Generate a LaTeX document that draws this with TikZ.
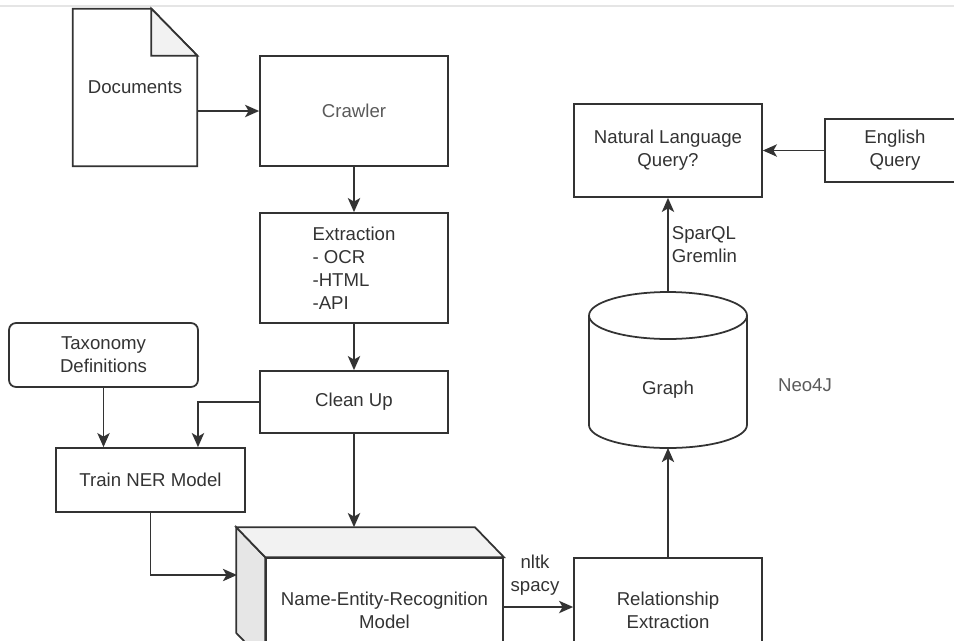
\documentclass[tikz,border=0pt]{standalone}
\usepackage{fontspec}
\setmainfont{Liberation Sans}
\usetikzlibrary{arrows.meta}
\definecolor{linec}{HTML}{333333}
\definecolor{textc}{HTML}{333333}
\definecolor{softc}{HTML}{5A5A5A}
\definecolor{facec}{HTML}{F2F2F2}
\definecolor{sidec}{HTML}{E6E6E6}
\begin{document}
\begin{tikzpicture}[
            x=0.02cm, y=-0.02cm,
            every node/.style={font=\fontsize{10.6}{13}\selectfont, text=textc, inner sep=0pt, align=center},
            box/.style={draw=linec, line width=1pt, minimum width=3.76cm},
            roundbox/.style={box, rounded corners=4pt, minimum width=3.78cm, minimum height=1.28cm},
            wire/.style={draw=linec, line width=1pt},
            arr/.style={wire, -{Stealth[length=8pt,width=7pt,inset=2pt]}}
            ]
        \useasboundingbox (0,0) rectangle (954,640);
        \clip (0,0) rectangle (954,640);
        \draw[gray!20, line width=0.6pt] (0,6) -- (954,6);
        % left column
        \node (docs) at (135,87.5) [minimum width=2.48cm, minimum height=3.14cm] {Documents};
        \draw[wire] (docs.north west) -- ([xshift=-0.92cm]docs.north east) -- ([yshift=-0.94cm]docs.north east)
            -- (docs.south east) -- (docs.south west) -- cycle;
        \filldraw[wire, fill=facec] ([xshift=-0.92cm]docs.north east) -- ([xshift=-0.92cm,yshift=-0.94cm]docs.north east)
            -- ([yshift=-0.94cm]docs.north east) -- cycle;
        \node (crawler) at (354,111) [box, minimum height=2.2cm, text=softc] {Crawler};
        \node (extract) at (354,268) [box, minimum height=2.2cm, align=left] {Extraction\\- OCR\\-HTML\\-API};
        \node (cleanup) at (354,402) [box, minimum height=1.24cm] {Clean Up};
        \node (taxo) at (103.5,355) [roundbox] {Taxonomy\\Definitions};
        \node (train) at (150.5,480) [box, minimum width=3.78cm, minimum height=1.28cm] {Train NER Model};
        % cube
        \node (ner) at (384.5,610) [box, minimum width=4.74cm, minimum height=2.08cm] {Name-Entity-Recognition\\Model};
        \filldraw[wire, fill=sidec] (ner.north west) -- ++(-29,-30) -- ([xshift=-0.58cm,yshift=0.6cm]ner.south west)
            -- (ner.south west) -- cycle;
        \filldraw[wire, fill=facec] (ner.north west) -- ++(-29,-30) -- ([xshift=-0.58cm,yshift=0.6cm]ner.north east)
            -- (ner.north east) -- cycle;
        \coordinate (nertop) at ([xshift=-0.58cm,yshift=0.6cm]ner.north);
        \coordinate (nerside) at (237,575);
        % right column
        \node (relx) at (668,610) [box, minimum height=2.08cm] {Relationship\\Extraction};
        \node (graph) at (668,390) {Graph};
        \draw[wire] (589,315.5) -- (589,425) arc[start angle=180, end angle=360, x radius=1.58cm, y radius=0.46cm]
            -- (747,315.5);
        \draw[wire] (668,315.5) ellipse [x radius=1.58cm, y radius=0.47cm];
        \coordinate (graphtop) at (668,292);
        \coordinate (graphbot) at (668,448);
        \node (neo) at (805,385) [text=softc] {Neo4J};
        \node (nlq) at (668,150.5) [box, minimum height=1.86cm] {Natural Language\\Query?};
        \node (engq) at (895,150.5) [box, minimum width=2.8cm, minimum height=1.26cm] {English\\Query};
        % connectors
        \draw[arr] (docs.east |- crawler.west) -- (crawler.west);
        \draw[arr] (crawler.south) -- (extract.north);
        \draw[arr] (extract.south) -- (cleanup.north);
        \draw[arr] (cleanup.south) -- (cleanup.south |- nertop);
        \draw[arr] (cleanup.west) -| ([xshift=0.95cm]train.north);
        \draw[arr] (taxo.south) -- (taxo.south |- train.north);
        \draw[arr] (train.south) |- (nerside);
        \draw[arr] (ner.east |- 0,607) -- (relx.west |- 0,607);
        \node (libs) at (535,575) {nltk\\spacy};
        \draw[arr] (relx.north) -- (graphbot);
        \draw[arr] (graphtop) -- node[right, xshift=0.06cm, align=left] (qlang) {SparQL\\Gremlin} (nlq.south);
        \draw[arr] (engq.west) -- (nlq.east);
\end{tikzpicture}
\end{document}
